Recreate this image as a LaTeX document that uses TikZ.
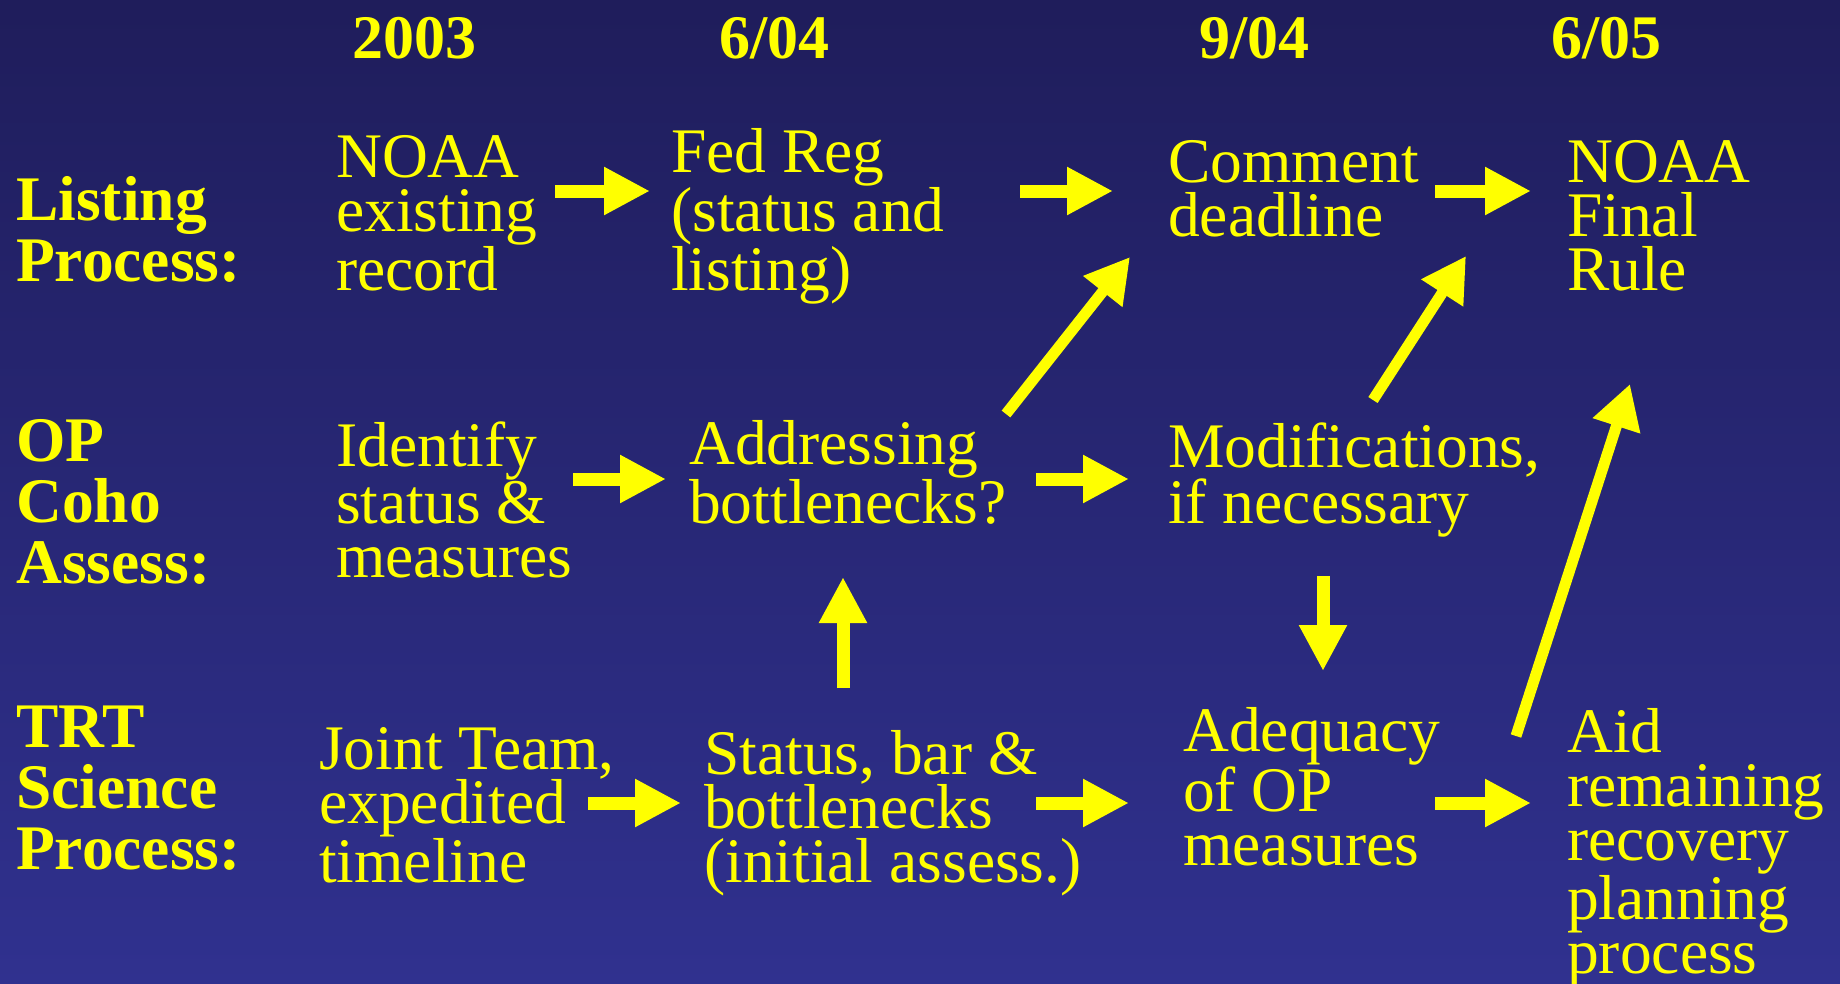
\documentclass[tikz,border=0pt]{standalone}
\usepackage{fontspec}
\setmainfont{Liberation Serif}
\usetikzlibrary{arrows.meta}
\definecolor{yel}{RGB}{255,255,0}
\definecolor{bgtop}{RGB}{31,29,91}
\definecolor{bgbot}{RGB}{48,49,143}
\begin{document}
\begin{tikzpicture}[x=1pt,y=-1pt,
 body/.style={text=yel, anchor=base west, inner sep=0pt, align=left, font=\fontsize{63.5}{54}\selectfont},
 lab/.style={text=yel, anchor=base west, inner sep=0pt, align=left, font=\fontsize{63.5}{61}\selectfont\bfseries},
 ttl/.style={text=yel, anchor=base west, inner sep=0pt, font=\fontsize{62}{62}\selectfont\bfseries},
 blk/.style={draw=yel, fill=yel, line width=13pt, -{Triangle[width=45pt,length=46pt]}},
 slim/.style={draw=yel, fill=yel, line width=11pt, -{Triangle[width=47pt,length=44pt]}}]
\shade[top color=bgtop, bottom color=bgbot] (0,0) rectangle (1840,983);
\useasboundingbox (0,0) rectangle (1840,983);

% titles
\node[ttl] (t1) at (352,58) {2003};
\node[ttl] (t2) at (719,58) {6/04};
\node[ttl] (t3) at (1199,58) {9/04};
\node[ttl] (t4) at (1551,58) {6/05};

% row labels (anchor = baseline of last line)
\node[lab] (l1) at (16,281) {Listing\\Process:};
\node[lab] (l2) at (16,583) {OP\\Coho\\Assess:};
\node[lab] (l3) at (16,869) {TRT\\Science\\Process:};

% boxes (anchor = baseline of last line)
\node[body] (noaa)   at (336,290) {NOAA\\existing\\record};
\node[body] (fedreg) at (671,290) {Fed Reg\\(status and\\listing)};
\node[body] (comment) at (1168,236) {Comment\\deadline};
\node[body] (final)  at (1567,290) {NOAA\\Final\\Rule};
\node[body] (ident)  at (336,577) {Identify\\status \&\\measures};
\node[body] (addr)   at (689,523) {Addressing\\bottlenecks?};
\node[body] (modif)  at (1168,523) {Modifications,\\if necessary};
\node[body] (joint)  at (319,882) {Joint Team,\\expedited\\timeline};
\node[body] (status) at (704,882) {Status, bar \&\\bottlenecks\\(initial assess.)};
\node[body] (adeq)   at (1183,865) {Adequacy\\of OP\\measures};
\node[body] (aid)    at (1567,973) {Aid\\remaining\\recovery\\planning\\process};

% arrow end points
\coordinate (a1s) at (555,191);  \coordinate (a1e) at (650,191);
\coordinate (a2s) at (1020,191); \coordinate (a2e) at (1113,191);
\coordinate (a3s) at (1435,191); \coordinate (a3e) at (1531,191);
\coordinate (a4s) at (573,479);  \coordinate (a4e) at (666,479);
\coordinate (a5s) at (1036,479); \coordinate (a5e) at (1129,479);
\coordinate (a6s) at (588,803);  \coordinate (a6e) at (681,803);
\coordinate (a7s) at (1036,803); \coordinate (a7e) at (1129,803);
\coordinate (a8s) at (1435,803); \coordinate (a8e) at (1531,803);
\coordinate (v1s) at (843,688);  \coordinate (v1e) at (843,577);
\coordinate (v2s) at (1323,576); \coordinate (v2e) at (1323,671);
\coordinate (d1s) at (1006,414); \coordinate (d1e) at (1130,257);
\coordinate (d2s) at (1373,400); \coordinate (d2e) at (1466,256);
\coordinate (d3s) at (1516,736); \coordinate (d3e) at (1630,384);

\draw[blk] (a1s) -- (a1e);
\draw[blk] (a2s) -- (a2e);
\draw[blk] (a3s) -- (a3e);
\draw[blk] (a4s) -- (a4e);
\draw[blk] (a5s) -- (a5e);
\draw[blk] (a6s) -- (a6e);
\draw[blk] (a7s) -- (a7e);
\draw[blk] (a8s) -- (a8e);
\draw[blk] (v1s) -- (v1e);
\draw[blk] (v2s) -- (v2e);
\draw[slim] (d1s) -- (d1e);
\draw[slim] (d2s) -- (d2e);
\draw[slim] (d3s) -- (d3e);
\end{tikzpicture}
\end{document}
